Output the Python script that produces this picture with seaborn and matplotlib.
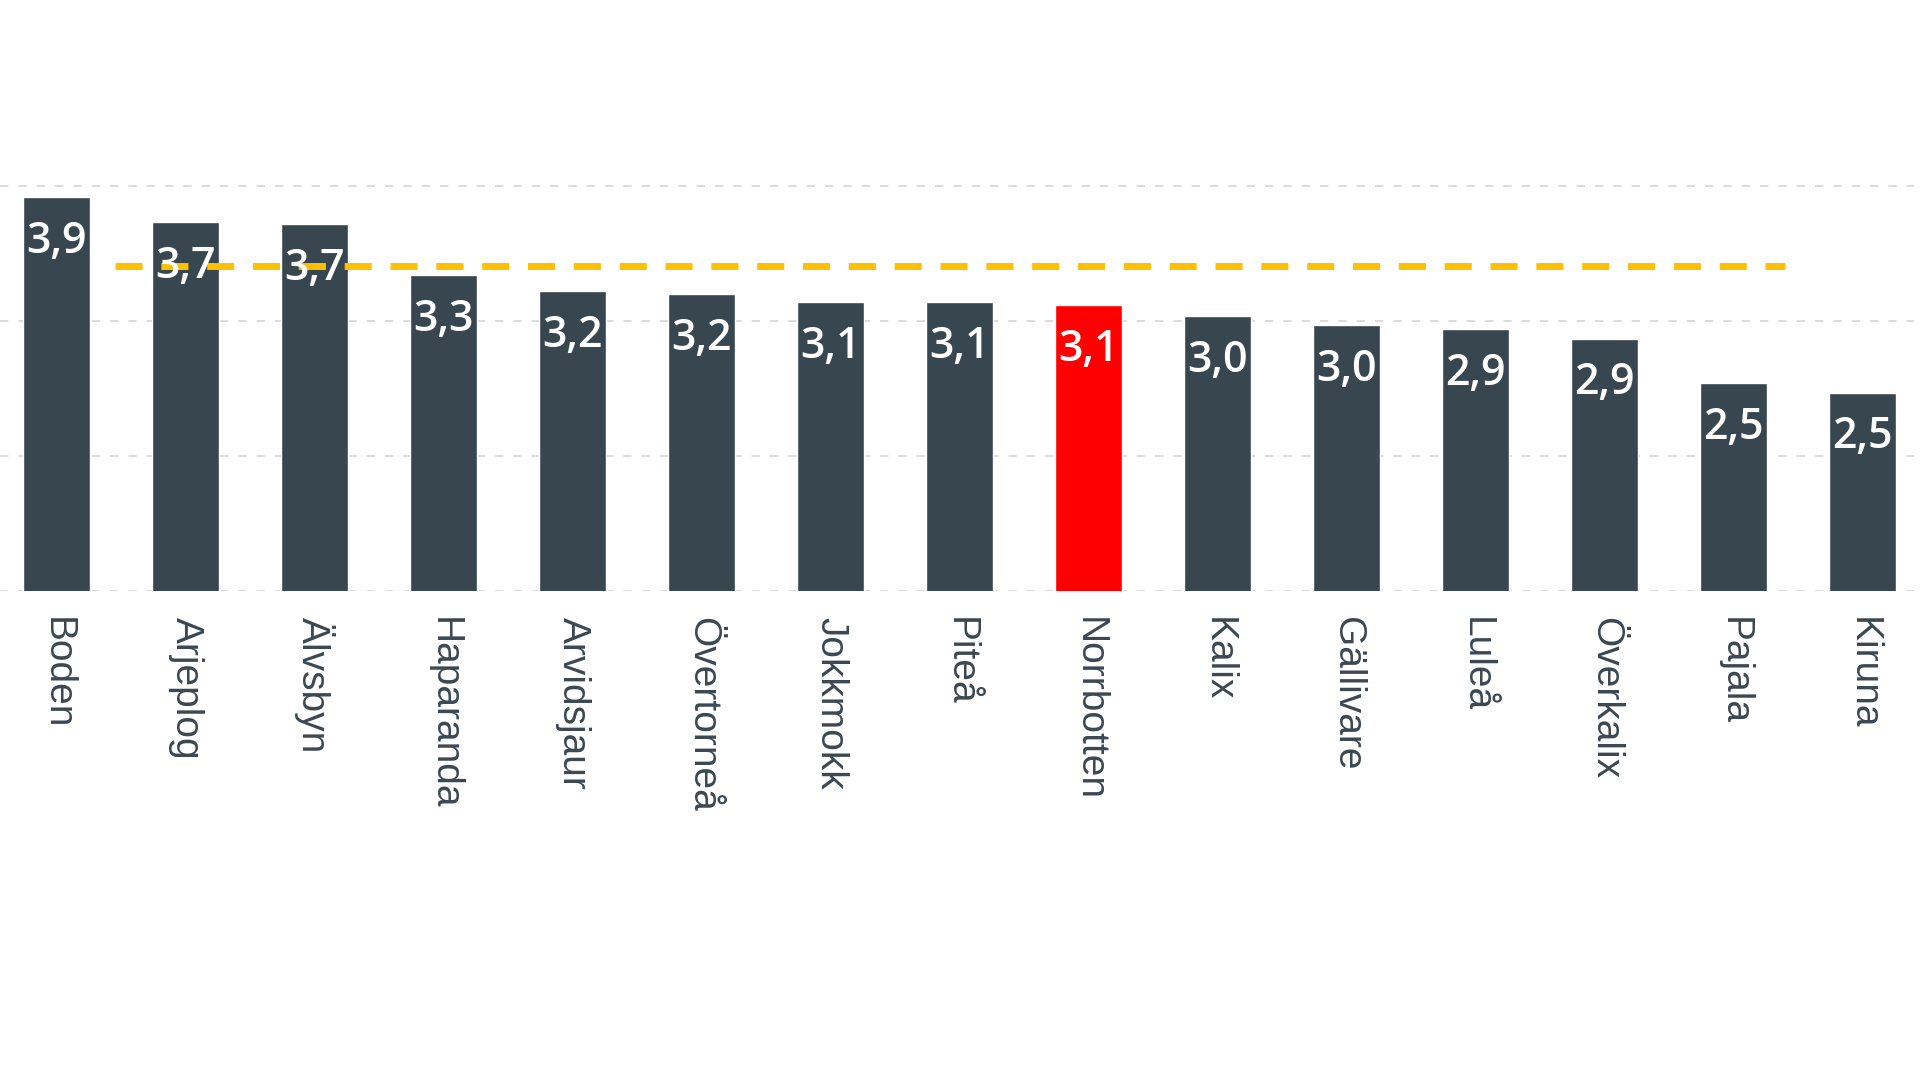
# Stapeldiagram: kommuner i Norrbotten med referenslinje
import matplotlib
matplotlib.use("Agg")
import matplotlib.pyplot as plt
import seaborn as sns
import pandas as pd

kommuner = ["Boden", "Arjeplog", "Älvsbyn", "Haparanda", "Arvidsjaur",
            "Övertorneå", "Jokkmokk", "Piteå", "Norrbotten", "Kalix",
            "Gällivare", "Luleå", "Överkalix", "Pajala", "Kiruna"]
varden = [3.92, 3.73, 3.72, 3.34, 3.22, 3.20, 3.14, 3.14, 3.12, 3.04,
          2.97, 2.94, 2.87, 2.54, 2.47]
referens = 3.41
markerad = "Norrbotten"

bar_color = "#37464f"
red = "#ff0000"
gold = "#ffc000"
text_color = "#3b4852"

sns.set_theme(style="white")
plt.rcParams["font.family"] = ["Liberation Sans", "DejaVu Sans"]

df = pd.DataFrame({"kommun": kommuner, "varde": varden})
palette = {k: (red if k == markerad else bar_color) for k in kommuner}

fig = plt.figure(figsize=(19.2, 10.79), dpi=100)
ax = fig.add_axes([0.0, 0.4523, 0.997, 0.4129])

sns.barplot(data=df, x="kommun", y="varde", hue="kommun", palette=palette,
            legend=False, width=0.52, saturation=1, ax=ax, zorder=2)

ax.set_ylim(1, 4.3)
ax.set_xlim(-0.44, 14.4)
ax.set_yticks([1, 2, 3, 4])
ax.yaxis.grid(True, color="#d6d6d6", linestyle=(0, (5, 6)), linewidth=1.2, zorder=0)
ax.set_axisbelow(True)
ax.set_yticklabels([])
ax.tick_params(axis="y", length=0)
ax.tick_params(axis="x", length=0, pad=19)
for lab in ax.get_xticklabels():
    lab.set_rotation(270)
    lab.set_va("top")
    lab.set_ha("center")
    lab.set_fontsize(28)
    lab.set_color(text_color)
ax.set_xlabel("")
ax.set_ylabel("")
sns.despine(ax=ax, left=True, bottom=True, top=True, right=True)

# referenslinje
ax.hlines(referens, 0.45, 13.4, colors=gold, linewidth=5,
          linestyles=(0, (3.9, 2.7)), zorder=3)

# värden i staplarna
for i, v in enumerate(varden):
    ax.annotate(f"{v:.1f}".replace(".", ","), xy=(i, v), xytext=(0, -32),
                textcoords="offset points", ha="center", va="center",
                color="white", fontsize=31, fontweight="semibold",
                family=["Open Sans", "DejaVu Sans"], zorder=4)

fig.savefig("out.png", dpi=100)
